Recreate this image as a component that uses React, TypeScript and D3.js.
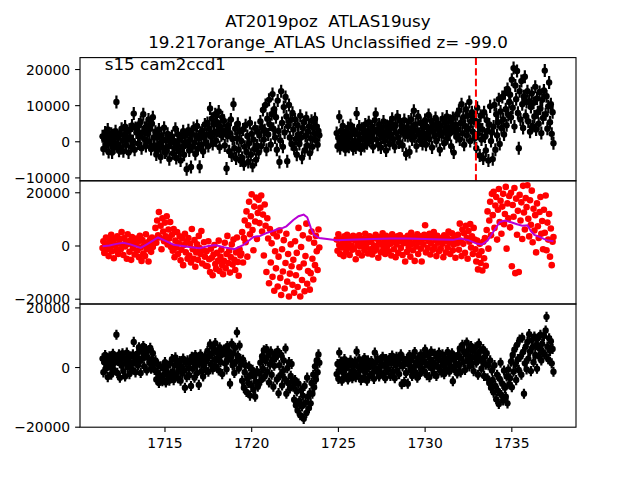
import React from 'react';
import * as d3 from 'd3';

// ---------- text ----------
const TITLE_LINE_1 = 'AT2019poz  ATLAS19usy';
const TITLE_LINE_2 = '19.217orange_ATLAS Unclassified z= -99.0';
const FIELD_LABEL = 's15 cam2ccd1';

// ---------- time grid (TESS cadence, two orbits) ----------
const CADENCE_DAYS = 0.05;
const SEGMENT_STARTS = [1711.4, 1724.9];
const DISCOVERY_MJD = 1732.93;
const X_TICKS = [1715, 1720, 1725, 1730, 1735];

// ---------- panel 1: raw flux (black, with errors) ----------
const P1_ERR = 1800;
const P1_Y_DOMAIN = [-10800, 23300];
const P1_Y_TICKS = [-10000, 0, 10000, 20000];
const P1_SEG1 = [
  1500, -2000, 800, 2600, -1200, 300, 3400, -2800, 1000, -400, 2200, -3000, 1800, 600, -1500, 2900, 11000, -600, 1400, -2500,
  2100, -1800, 3600, 400, -2600, 1900, 4200, -900, 2800, 600, -3000, 3300, 1200, -1400, 4500, 200, 7800, -2200, 3800, 2600,
  3000, -500, 4800, 1500, 5500, -1800, 2600, 7600, 800, 3900, -1200, 4400, 2200, 6200, 100, 3600, -2000, 5000, 6800, 1200,
  -1000, 2800, -3500, 1200, -2200, 3400, -400, -4200, 1800, -1600, 600, 3900, -3000, 400, -2500, 2200, -1200, -4800, 1000, -300,
  1500, -3200, 300, -1800, 3600, -4500, -800, 2000, -2600, 700, -5200, 1300, -1400, 2900, -3600, -200, 1800, -7600, -900, 3200,
  -2400, 600, -7000, 2200, -1300, 3800, -300, -3400, 1600, 4400, -1900, 900, -6900, 2500, -800, 3100, -2700, 1200, 4800, -400,
  2000, 5200, -1200, 3600, 9200, 1400, 6400, -600, 4800, 2600, 7600, 300, 5400, 3000, 8400, -1500, 4200, 1800, 6800, 2200,
  5800, -1000, 3200, -7400, 1600, 4600, -2600, 2400, 6200, -3800, 800, 10400, -1800, 3600, -4600, 1000, 5000, -2200, 2800, -5200,
  200, -4400, 3400, -6200, -1400, 4600, -2800, 1600, -5600, -400, 5200, -3600, 2200, -6600, 600, -2000, 3800, -5000, -1000, 2800,
  -3000, 1800, 5600, -1200, 4000, 8800, 600, 3200, 10200, -2200, 6400, 2000, 11600, 4800, -800, 7600, 13200, 3600, 9000, 1200,
  6800, -2200, 11400, 3000, -5600, 400, 14000, 5200, -1400, 9600, 2600, 12400, 7000, -5400, 4400, 10200, 1200, 6000, -600, 8000,
  3400, -1800, 6200, 800, -3600, 4600, 2000, -600, 7200, 1200, -4400, 3800, 5400, -2400, 1600, 6600, -1000, 2800, 4200, -3200,
  1000, 5800, -1400, 3800, 2400, 6400, 400, 4200, -800, 3000, 1800,
];
const P1_SEG2 = [
  2400, -1200, 1200, 6900, -1800, 3000, 400, 4400, -600, 1800, -2200, 2800, 600, 3800, -1400, 1400, 4600, -400, 2200, -2000,
  3200, 200, -1600, 7800, 2000, -800, 4200, 1000, -2000, 3600, 600, 2600, -1200, 4800, 1600, -400, 3000, 5400, 200, 2200,
  1000, 4200, -1400, 2800, 6000, 7700, 600, 3400, -800, 4800, 2000, -1600, 3800, 1200, 5600, 200, 2600, -2400, 4400, 1600,
  3200, -600, 5200, 2000, 6400, 800, 3800, -1400, 4600, 2400, 7000, 1200, -200, 5800, 3000, 4400, -1000, 2600, 6000, 1800,
  -3400, 4000, 1600, 5600, -2800, 2800, 6200, 600, 3600, 8600, 1400, 4800, -1200, 3000, 7000, 2200, 400, 5200, 2600, -600,
  3800, 1200, 6000, -800, 4200, 2400, 7400, 800, 3400, 5800, -1600, 2800, 4600, 1600, 6600, 200, 3600, 5000, 2000, -2200,
  4400, 1800, 6400, 2600, -400, 5200, 3000, 7000, 1000, 4000, 2200, 5800, -1200, 3600, 6600, -3000, 2800, 4800, 1400, 7600,
  3400, 8600, 600, 5200, 10400, 2400, 6800, -800, 4400, 9000, 1800, 7200, 3600, 11000, 200, 5600, 8200, 2800, 6400, 1000,
  5800, -1800, 9400, 2200, 4600, -3800, 7200, 600, 3400, -4600, 8200, 1400, -2400, 6000, 3000, -5200, 4800, 9800, 200, 2600,
  -4800, 4200, 10200, -2200, 7600, 1800, 5400, 11800, -600, 8400, 3800, 12400, 6200, 2000, 13400, 9000, 4600, 14600, 7400, 11000,
  13000, 6800, 17200, 9400, 20400, 4200, 15600, 11800, 19600, 8000, -1800, 14000, 6200, 16800, 10400, 3800, 12600, 18000, 7200, 11000,
  14000, 5600, 11200, 2800, 9600, 13400, 4400, 10800, 7000, 15200, 3400, 12000, 8200, 5000, 13800, 9200, 2400, 11600, 6600, 14200,
  19700, 7600, 12600, 3600, 9800, 16400, 5400, 10400, 2200, 8200, -400,
];

// ---------- panel 2: detrended flux (red) with smooth trend (magenta) ----------
const P2_Y_DOMAIN = [-21800, 24500];
const P2_Y_TICKS = [-20000, 0, 20000];
const P2_SEG1 = [
  -800, 1800, -2600, 400, 3200, -1400, 800, -3800, 2400, -400, 4200, -2000, 1200, -4600, 2800, 200, -1600, 3600, -3000, 1000,
  2600, -1200, 5200, 400, -3400, 3000, -200, 1800, -4800, 4400, 800, -2200, 2000, -5200, 3400, -800, 1200, -3200, 600, 2800,
  -1800, 1600, -4200, 3800, -600, -5600, 2200, -2800, 400, -3800, 4400, -1200, 1400, -5800, 200, 2600, -2200, 3200, -400, 1000,
  2400, 6800, 1200, 9600, 4000, 12800, 3200, 7600, -1200, 10400, 5400, 1800, 8800, 3600, 11200, 600, 6200, 2800, 9000, -400,
  4200, -1800, 6400, -4200, 2000, -600, 5200, -3000, 1000, 3600, -5400, -1400, 2800, -7200, 400, 4600, -2400, 1600, -4800, 3000,
  -3600, 800, -6200, 6400, -1200, -4800, 2200, -7800, -2400, 600, -5200, 3800, -800, -3000, 5600, -6600, -1600, 1400, -4000, -7400,
  -2000, -7600, 1800, -5000, -9800, -1000, -4400, -11000, -3200, 400, -6800, -8600, -2600, -5600, 2000, -9400, -4000, -1400, -7200, -10600,
  -5600, 1200, -8400, -3000, 3800, -6400, -1800, -10000, -4200, 600, -7000, 2400, -5200, -9000, -2400, 3200, -6000, -11200, -1200, -3600,
  -2800, 5200, -6200, 3000, 9600, 1400, 13000, -4000, 7800, 16600, 4400, 11200, 19400, 6000, -1600, 14800, 9200, 18200, 2600, 12400,
  17400, 8600, 14400, 19000, 5400, 11800, -3600, 15600, 7600, -9800, 10400, 2800, -14000, 6400, -6200, 1000, -11600, 4800, -16800, -2000,
  -8400, 3600, -15200, -4000, 5800, -12000, -18400, -1200, -9600, 2200, -16000, -6400, 4600, -13400, -3000, -19000, -10400, 600, -7600, -14600,
  -5200, -17600, 1800, -11000, -2600, -15400, 6800, -8000, -19000, -400, -12800, 4000, -6600, -17000, -3800, 8400, -14200, -9400, 2800, -16400,
  -10200, 5400, -4800, -12600, 1200, -7200, 3800, -2000, -9000, 6200, -600,
];
const P2_SEG2 = [
  2400, -1800, 4400, 400, -3000, 2800, -600, 1600, -3800, 3600, 1000, -2200, 4200, -400, 2000, -3400, 3000, 200, -1400, 3800,
  -1000, 2200, -5000, 3400, 600, -2600, 4000, -200, 1800, -3600, 2600, 1000, -1600, 4600, -400, 2400, -2800, 1400, 3600, -1200,
  1600, -3200, 3000, 200, -1800, 4200, -800, 2600, -4400, 1200, 3400, -2400, 600, 4800, -1000, 2000, -3000, 3800, -200, 1400,
  -2000, 3200, 800, -3600, 4400, 1600, -1200, 2800, -4200, 600, 3600, -2600, 1800, 4000, -800, 2200, -3400, 1000, 3000, -5800,
  1200, -2200, 3800, -400, 2400, -4000, 5000, 800, -1600, 3200, -5600, 2000, -200, 4400, -3000, 1400, 3600, -1000, -5800, 2600,
  600, 4200, 7800, -2400, 2800, -800, 1800, 4600, -3200, 1000, 3400, -1400, 5200, -400, 2200, -3800, 3800, 1200, -2000, 2600,
  -1000, 3000, 800, -4200, 4000, 1800, -2400, 3400, -600, 5400, 1200, -3000, 2400, 4800, -1600, 600, 3800, -4400, 2000, 1000,
  4200, -1400, 8400, 2000, -3800, 6200, 800, 4800, -2600, 7600, 3000, -4800, 5600, 1600, 8200, -600, 3600, -3000, 6800, 2400,
  -1200, -5800, 2000, -8800, -3400, 800, -6400, -2000, -9200, 1600, -4600, 3000, -7400, 6000, 13000, -1000, 9600, 16600, 4000, 19600,
  11600, 20400, 6800, 15200, 18400, 2400, 13600, 21400, 9000, 17000, 4600, 14800, 19600, 8200, 12000, 22200, -1000, 16000, 10400, 18800,
  7000, 20000, -7600, 15400, 11000, 21800, -10200, 17800, 4200, 13200, -9800, 19200, 9600, 16400, 2600, 22600, 12600, 6200, 18000, 14600,
  22800, 10200, 3600, 17200, 8000, 20800, 1400, 14000, 5800, 11600, -2400, 16000, 7400, 3000, 12800, 18400, 4600, 9400, -1200, 13600,
  5000, 19000, -1600, 8800, 2400, 12000, -4000, 6600, -7200, 1600, 3400,
];
const TREND_MJD = [
  1711.4, 1711.8, 1712.2, 1712.6, 1713.0, 1713.6, 1714.0, 1714.6, 1715.0, 1715.5, 1716.0, 1716.5, 1717.0, 1717.5, 1717.9,
  1718.4, 1719.0, 1719.5, 1720.1, 1720.5, 1720.9, 1721.2, 1721.5, 1721.8, 1722.0, 1722.4, 1722.7, 1723.0, 1723.2, 1723.4,
  1723.6, 1723.9, 1724.9, 1726.0, 1727.0, 1728.0, 1729.0, 1730.0, 1731.0, 1731.6, 1732.0, 1732.5, 1733.0, 1733.3, 1733.6,
  1734.0, 1734.3, 1734.6, 1735.0, 1735.3, 1735.6, 1735.9, 1736.1, 1736.3, 1736.6, 1737.0, 1737.4,
];
const TREND_FLUX = [
  -100, 200, 800, 1200, 600, -700, 800, 3200, 2000, 500, 0, -500, -800, 0, 400,
  -500, -1200, 300, 3400, 3800, 5000, 5600, 6400, 6800, 7400, 9800, 11200, 11800, 10800, 7000,
  4200, 3000, 2200, 2400, 2600, 2800, 2800, 2600, 2400, 2300, 2800, 2200, 800, 600, 2000,
  6000, 9000, 9600, 8800, 8200, 7600, 7800, 5600, 4200, 3400, 2200, 1800,
];

// ---------- panel 3: second flux series (black, with errors) ----------
const P3_ERR = 1700;
const P3_Y_DOMAIN = [-20000, 21300];
const P3_Y_TICKS = [-20000, 0, 20000];
const P3_SEG1 = [
  3000, -1600, 1800, 4200, -400, 2600, -3200, 1200, 3800, 200, -2400, 2800, 4600, -800, 1600, 3400, 11000, -1800, 2200, 4400,
  -3400, 2400, 600, 4800, -1200, 3200, -3000, 1400, 5000, 200, 2800, -2200, 3800, 1000, -600, 4400, 8600, 2000, -1600, 3600,
  4600, 800, 6800, 2200, -1800, 5400, 3000, 7200, 400, 4000, 6200, -1000, 3400, 5800, 1600, 6600, -400, 2800, 4800, 1200,
  -800, 2400, -4000, -1600, 1000, -5200, -2600, 400, -3600, -4600, -200, -2400, 1800, -5000, -1200, 600, -3000, -4400, 1400, -2000,
  2800, -1600, -4200, 800, 3400, -2400, 1200, -3600, -600, 2200, -4400, 400, -2000, 3000, -1000, -6800, 1600, -3200, 2400, -200,
  -2600, 1800, -6200, 3600, -400, 2000, -3400, 4200, 800, -1800, 3000, -5800, 1400, 4400, -1200, 2600, -3000, 600, 3800, -800,
  2200, 5600, -1400, 3800, 7800, 1000, 4600, -600, 6400, 2600, 8200, 400, 5000, 3200, -1000, 6800, 1800, 4200, -2200, 5400,
  6000, 1400, 4400, -600, 7200, 2600, 5400, -5400, 3200, 8000, 800, 4800, -1800, 6600, 2000, 11800, 4000, -400, 7400, 2800,
  1000, -4400, 2600, -6800, -1600, 800, -8200, -3600, -5200, 400, -9400, -2400, -6000, -800, -7400, -3000, -9800, -4800, -1200, -6400,
  -5600, -2000, 1600, -4200, 3800, -400, 5800, -3000, 2200, 6200, -1400, 4000, -5000, 1000, 5400, -2400, 2800, -6400, 600, 4600,
  3400, -4000, 5600, -8600, 800, -2600, 4200, -6000, -1200, 2400, -3800, 6400, -8800, -200, -5200, 1800, -7000, -2800, 1200, -4600,
  -6400, -10800, -4200, -12600, -8000, -14400, -5400, -11200, -16000, -7600, -13000, -9400, -17200, -6200, -11800, -15200, -3400, -9800, -13600, -8600,
  -12000, -5200, -8800, -2400, -6600, 400, -4000, 2400, -1600, 4400, 1600,
];
const P3_SEG2 = [
  -2200, 1200, -3800, 5000, -600, 2000, -4400, 400, -1800, 2800, -3000, -200, 1600, -4000, 800, -2600, 2400, -1200, -3600, 1000,
  -1400, 2000, -3200, 5400, 400, -2400, 2800, -800, -4200, 1600, -200, -3400, 3200, -1600, 800, -4400, 2400, 0, -2800, 1400,
  2200, -2000, 400, -3800, 5000, 1600, -1200, 3000, -400, -3000, 2400, -1800, 1000, 3600, -2400, 600, -3600, 2800, -800, 1800,
  -600, 3200, -2800, 1400, 4000, -1400, 2200, -3600, 800, 3600, -1000, 2600, -2200, 1200, 4400, -5600, 400, 3000, -4800, 1800,
  -1800, 2800, -5400, 1000, 4200, -800, 2400, -2800, 3600, 200, 5200, -1600, 1800, -3400, 3200, 600, -2200, 4400, -400, 2000,
  3800, -1200, 6000, 1400, -2600, 4200, 600, -3200, 2600, 5400, -400, 1800, -2000, 4600, 1000, -2800, 3200, 200, 5000, -1000,
  2400, -1600, 4400, 800, -2200, 3200, 1600, -600, 5200, 2000, -1400, 3600, 400, 4800, -4600, 2600, -800, 3400, 1200, -2000,
  4200, 800, 6400, -1600, 3000, 7600, 1800, 5200, -800, 4600, 8400, 2200, 6000, 400, 3800, 7200, 1400, 5600, -1200, 3400,
  6800, 1600, 4400, -2400, 8000, 3000, 5600, -400, 2200, 6200, -2800, 3600, 1000, 4800, -3600, 800, -5200, 2400, -6800, -1000,
  -4200, -8400, 800, -6200, -10600, -2400, -7800, -12200, -3800, 1600, -9200, -5400, -11000, -1000, -6800, -9800, -3000, -12000, -600, -5600,
  -3600, 2000, -6600, 4200, -1400, 6000, 1000, -4200, 7600, 2800, -800, 9400, 3600, -2400, 10000, 5200, -8800, 1400, 7000, -600,
  8600, 3000, 11200, 5400, -1200, 9200, 6800, 1800, 10400, 4200, 7600, -400, 9800, 3800, 6400, 11000, 2400, 8000, 5000, 10600,
  4400, 12400, 17000, 7000, 2800, 9800, 5600, 8800, 1400, 6200, -1400,
];

// ---------- layout ----------
const W = 640;
const H = 480;
const LEFT = 80;
const RIGHT = 576;
const TOP = 57.6;
const BOTTOM = 427.2;
const PANEL_H = (BOTTOM - TOP) / 3;
const FONT = 'DejaVu Sans, Liberation Sans, sans-serif';
const TICK_LEN = 4.9;
const TICK_PAD = 4.9;
const TICK_FONT = 13.9;

type Pt = { t: number; v: number };

function toPoints(segs: number[][]): Pt[] {
  const out: Pt[] = [];
  segs.forEach((seg, s) => {
    seg.forEach((v, i) => out.push({ t: SEGMENT_STARTS[s] + i * CADENCE_DAYS, v }));
  });
  return out;
}

const fmt = (v: number) => (v < 0 ? '\u2212' + Math.abs(v) : String(v));

export default function App() {
  const p1 = toPoints([P1_SEG1, P1_SEG2]);
  const p2 = toPoints([P2_SEG1, P2_SEG2]);
  const p3 = toPoints([P3_SEG1, P3_SEG2]);

  const [tMin, tMax] = d3.extent(p1, (d) => d.t) as [number, number];
  const pad = (tMax - tMin) * 0.05;
  const x = d3.scaleLinear().domain([tMin - pad, tMax + pad]).range([LEFT, RIGHT]);

  const panels = [0, 1, 2].map((k) => ({ top: TOP + k * PANEL_H, bottom: TOP + (k + 1) * PANEL_H }));
  const y1 = d3.scaleLinear().domain(P1_Y_DOMAIN).range([panels[0].bottom, panels[0].top]);
  const y2 = d3.scaleLinear().domain(P2_Y_DOMAIN).range([panels[1].bottom, panels[1].top]);
  const y3 = d3.scaleLinear().domain(P3_Y_DOMAIN).range([panels[2].bottom, panels[2].top]);

  const trendLine = d3
    .line<number>()
    .x((_, i) => x(TREND_MJD[i]))
    .y((d) => y2(d))
    .curve(d3.curveLinear);

  const errPanel = (pts: Pt[], y: d3.ScaleLinear<number, number>, err: number, key: string) => (
    <g key={key}>
      {pts.map((d, i) => (
        <line
          key={'e' + i}
          x1={x(d.t)}
          x2={x(d.t)}
          y1={y(d.v - err)}
          y2={y(d.v + err)}
          stroke="#000"
          strokeWidth={2.2}
        />
      ))}
      {pts.map((d, i) => (
        <circle key={'c' + i} cx={x(d.t)} cy={y(d.v)} r={3.2} fill="#000" />
      ))}
    </g>
  );

  const yAxis = (y: d3.ScaleLinear<number, number>, ticks: number[], key: string) => (
    <g key={key}>
      {ticks.map((t) => (
        <g key={t}>
          <line x1={LEFT - TICK_LEN} x2={LEFT} y1={y(t)} y2={y(t)} stroke="#000" strokeWidth={1.1} />
          <text
            x={LEFT - TICK_LEN - TICK_PAD}
            y={y(t)}
            dy="0.36em"
            textAnchor="end"
            fontSize={TICK_FONT}
            fontFamily={FONT}
            fill="#000"
          >
            {fmt(t)}
          </text>
        </g>
      ))}
    </g>
  );

  return (
    <svg
      width={W}
      height={H}
      style={{ position: 'fixed', left: 0, top: 0, background: '#fff' }}
      xmlns="http://www.w3.org/2000/svg"
    >
      <rect x={0} y={0} width={W} height={H} fill="#fff" />
      <defs>
        {panels.map((p, k) => (
          <clipPath id={'clip' + k} key={k}>
            <rect x={LEFT} y={p.top} width={RIGHT - LEFT} height={PANEL_H} />
          </clipPath>
        ))}
      </defs>

      {/* title */}
      <text
        x={(LEFT + RIGHT) / 2}
        y={26.5}
        textAnchor="middle"
        fontSize={16.7}
        fontFamily={FONT}
        style={{ whiteSpace: 'pre' }}
        fill="#000"
      >
        {TITLE_LINE_1}
      </text>
      <text x={(LEFT + RIGHT) / 2} y={48} textAnchor="middle" fontSize={16.7} fontFamily={FONT} fill="#000">
        {TITLE_LINE_2}
      </text>

      {/* panel 1 */}
      <g clipPath="url(#clip0)">
        {errPanel(p1, y1, P1_ERR, 'p1')}
        <line
          x1={x(DISCOVERY_MJD)}
          x2={x(DISCOVERY_MJD)}
          y1={panels[0].top}
          y2={panels[0].bottom}
          stroke="#ff0000"
          strokeWidth={2}
          strokeDasharray="7.4 3.2"
        />
      </g>

      {/* panel 2 */}
      <g clipPath="url(#clip1)">
        {p2.map((d, i) => (
          <circle key={i} cx={x(d.t)} cy={y2(d.v)} r={3.3} fill="#ff0000" />
        ))}
        <path d={trendLine(TREND_FLUX) || ''} fill="none" stroke="#b800d4" strokeWidth={2} />
      </g>

      {/* panel 3 */}
      <g clipPath="url(#clip2)">{errPanel(p3, y3, P3_ERR, 'p3')}</g>

      {/* axes frames */}
      {panels.map((p, k) => (
        <rect
          key={k}
          x={LEFT}
          y={p.top}
          width={RIGHT - LEFT}
          height={PANEL_H}
          fill="none"
          stroke="#000"
          strokeWidth={1.1}
        />
      ))}

      {yAxis(y1, P1_Y_TICKS, 'ya1')}
      {yAxis(y2, P2_Y_TICKS, 'ya2')}
      {yAxis(y3, P3_Y_TICKS, 'ya3')}

      {/* x axis on bottom panel */}
      {X_TICKS.map((t) => (
        <g key={t}>
          <line x1={x(t)} x2={x(t)} y1={BOTTOM} y2={BOTTOM + TICK_LEN} stroke="#000" strokeWidth={1.1} />
          <text
            x={x(t)}
            y={BOTTOM + TICK_LEN + TICK_PAD}
            dy="0.76em"
            textAnchor="middle"
            fontSize={TICK_FONT}
            fontFamily={FONT}
            fill="#000"
          >
            {t}
          </text>
        </g>
      ))}

      {/* field label */}
      <text x={LEFT + 0.05 * (RIGHT - LEFT)} y={panels[0].bottom - 0.9 * PANEL_H} fontSize={16.7} fontFamily={FONT} fill="#000">
        {FIELD_LABEL}
      </text>
    </svg>
  );
}
